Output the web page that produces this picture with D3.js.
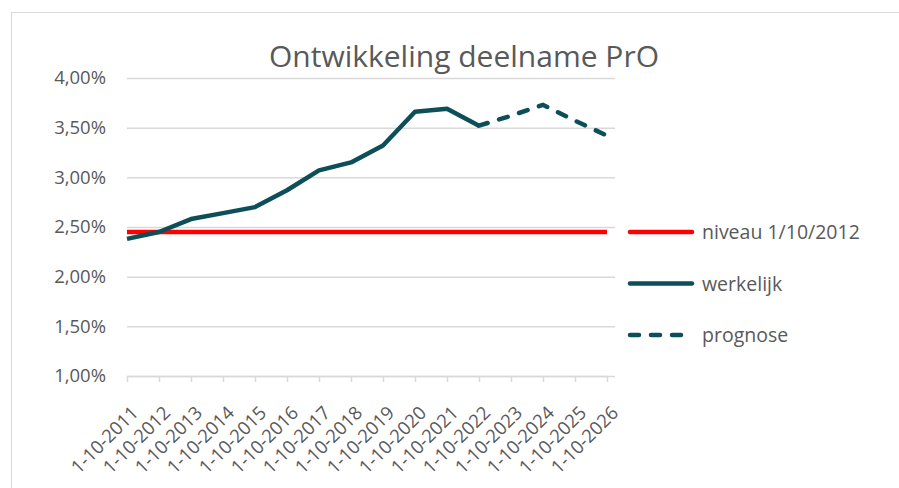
<!DOCTYPE html>
<html>
<head>
<meta charset="utf-8">
<script src="https://cdn.jsdelivr.net/npm/d3@7"></script>
<style>
  body { margin: 0; background: #fff; }
  svg { font-family: "Open Sans", "Noto Sans", sans-serif; }
</style>
</head>
<body>
<div id="chart"></div>
<script>
// categories (peildatum)
var dates = ["1-10-2011", "1-10-2012", "1-10-2013", "1-10-2014", "1-10-2015", "1-10-2016",
  "1-10-2017", "1-10-2018", "1-10-2019", "1-10-2020", "1-10-2021", "1-10-2022",
  "1-10-2023", "1-10-2024", "1-10-2025", "1-10-2026"];
// werkelijk, in % (null = no value)
var werkelijk = [2.38, 2.45, 2.58, 2.64, 2.70, 2.87, 3.07, 3.15, 3.32, 3.66, 3.69, 3.52,
  null, null, null, null];
// prognose, starts at last werkelijk value
var prognose = [null, null, null, null, null, null, null, null, null, null, null, 3.52,
  3.62, 3.73, 3.57, 3.42];
var niveau = 2.45;
var yTicks = [1.0, 1.5, 2.0, 2.5, 3.0, 3.5, 4.0];
var legendItems = [
  { name: "niveau 1/10/2012", color: "#ff0000", dash: null },
  { name: "werkelijk", color: "#0d4f59", dash: null },
  { name: "prognose", color: "#0d4f59", dash: "9,12" }
];

var W = 899, H = 488;
var plotLeft = 127, plotRight = 607, plotTop = 78, plotBottom = 376;

var svg = d3.select("#chart").append("svg")
  .attr("width", W)
  .attr("height", H);

// chart frame
svg.append("rect")
  .attr("x", 11.5).attr("y", 12.5)
  .attr("width", W).attr("height", H)
  .attr("fill", "#fff")
  .attr("stroke", "#d9d9d9");

svg.append("text")
  .attr("x", 464).attr("y", 67)
  .attr("text-anchor", "middle")
  .attr("font-size", 30)
  .attr("fill", "#595959")
  .text("Ontwikkeling deelname PrO");

var x = d3.scalePoint().domain(dates).range([plotLeft, plotRight]);
var y = d3.scaleLinear().domain([1, 4]).range([plotBottom, plotTop]);

// gridlines + y labels
var yAxis = d3.axisLeft(y)
  .tickValues(yTicks)
  .tickSize(-(plotRight + 8 - plotLeft))
  .tickPadding(21)
  .tickFormat(function(d) { return d3.format(".2f")(d).replace(".", ",") + "%"; });

var gy = svg.append("g")
  .attr("transform", "translate(" + plotLeft + ",0)")
  .call(yAxis);
gy.select(".domain").remove();
gy.selectAll(".tick line").attr("stroke", "#d9d9d9").attr("stroke-width", 1.5);
gy.selectAll(".tick text")
  .attr("fill", "#595959")
  .attr("font-size", 18.5)
  .attr("font-family", "Open Sans, sans-serif");

// x axis
var xAxis = d3.axisBottom(x).tickSize(6).tickSizeOuter(0);
var gx = svg.append("g")
  .attr("transform", "translate(0," + plotBottom + ")")
  .call(xAxis);
gx.select(".domain").attr("stroke", "#d9d9d9").attr("stroke-width", 1.5);
gx.selectAll(".tick line").attr("stroke", "#d9d9d9").attr("stroke-width", 1.5);
gx.selectAll(".tick text")
  .attr("fill", "#595959")
  .attr("font-size", 18.5)
  .attr("font-family", "Open Sans, sans-serif")
  .attr("text-anchor", "end")
  .attr("dy", null)
  .attr("y", 0)
  .attr("transform", "translate(12,38) rotate(-45)");

// niveau line
svg.append("line")
  .attr("x1", plotLeft).attr("x2", plotRight)
  .attr("y1", y(niveau)).attr("y2", y(niveau))
  .attr("stroke", "#ff0000")
  .attr("stroke-width", 4.5);

var line = d3.line()
  .defined(function(d) { return d != null; })
  .x(function(d, i) { return x(dates[i]); })
  .y(function(d) { return y(d); });

svg.append("path")
  .datum(werkelijk)
  .attr("d", line)
  .attr("fill", "none")
  .attr("stroke", "#0d4f59")
  .attr("stroke-width", 4.5)
  .attr("stroke-linejoin", "round");

svg.append("path")
  .datum(prognose)
  .attr("d", line)
  .attr("fill", "none")
  .attr("stroke", "#0d4f59")
  .attr("stroke-width", 4.5)
  .attr("stroke-linecap", "round")
  .attr("stroke-dasharray", "9,12");

// legend
var lg = svg.append("g").selectAll("g")
  .data(legendItems)
  .enter().append("g")
    .attr("transform", function(d, i) { return "translate(630," + (232 + i * 51.5) + ")"; });

lg.append("line")
  .attr("x1", 0).attr("x2", 62)
  .attr("stroke", function(d) { return d.color; })
  .attr("stroke-width", 4.5)
  .attr("stroke-linecap", "round")
  .attr("stroke-dasharray", function(d) { return d.dash; });

lg.append("text")
  .attr("x", 72).attr("y", 7)
  .attr("font-size", 19.5)
  .attr("fill", "#595959")
  .text(function(d) { return d.name; });
</script>
</body>
</html>
